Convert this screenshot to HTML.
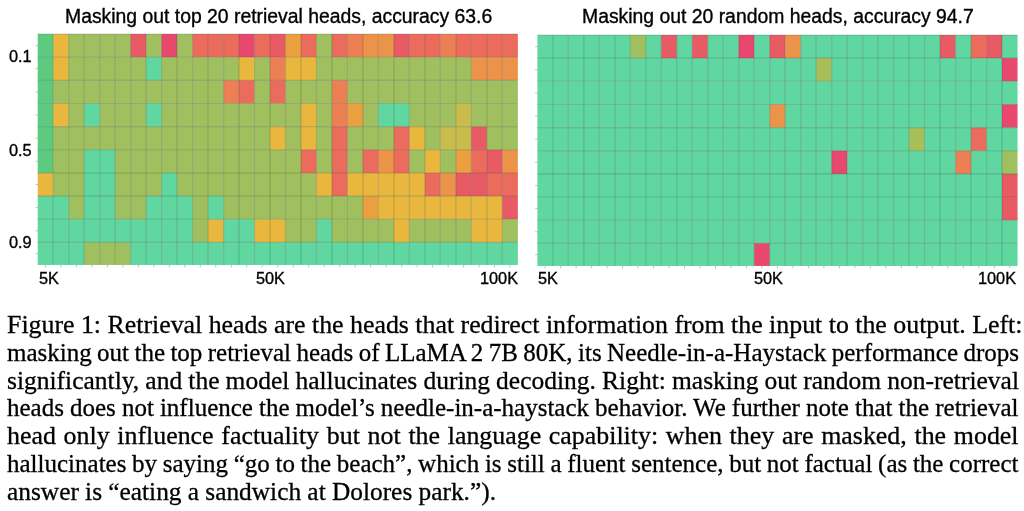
<!DOCTYPE html>
<html><head><meta charset="utf-8"><style>
html,body{margin:0;padding:0;background:#fff;}
.t,.cl{will-change:transform;}
body{width:1024px;height:511px;position:relative;overflow:hidden;}
.t{position:absolute;font-family:"Liberation Sans",sans-serif;color:#000;white-space:nowrap;line-height:1;-webkit-text-stroke:0.35px #000;}
.title{font-size:19.36px;}
.tick{font-size:16.3px;}
.cl{position:absolute;left:7.0px;font-family:"Liberation Serif",serif;font-size:25.0px;color:#000;line-height:28px;white-space:nowrap;transform-origin:0 0;-webkit-text-stroke:0.3px #000;}
svg{position:absolute;left:0;top:0;}
.gl{stroke:rgba(40,70,55,0.24);stroke-width:1.1;}
.tk{stroke:rgba(110,110,110,0.55);stroke-width:0.8;}
</style></head><body>
<svg width="1024" height="511" viewBox="0 0 1024 511">
<rect x="37.70" y="34.04" width="15.54" height="23.20" fill="#5CCB80"/>
<rect x="53.19" y="34.04" width="15.54" height="23.20" fill="#E9B73E"/>
<rect x="68.67" y="34.04" width="15.54" height="23.20" fill="#A0C05F"/>
<rect x="84.16" y="34.04" width="15.54" height="23.20" fill="#A0C05F"/>
<rect x="99.65" y="34.04" width="15.54" height="23.20" fill="#A0C05F"/>
<rect x="115.14" y="34.04" width="15.54" height="23.20" fill="#A0C05F"/>
<rect x="130.62" y="34.04" width="15.54" height="23.20" fill="#E85A64"/>
<rect x="146.11" y="34.04" width="15.54" height="23.20" fill="#A0C05F"/>
<rect x="161.60" y="34.04" width="15.54" height="23.20" fill="#E8476E"/>
<rect x="177.08" y="34.04" width="15.54" height="23.20" fill="#A0C05F"/>
<rect x="192.57" y="34.04" width="15.54" height="23.20" fill="#EB6B5C"/>
<rect x="208.06" y="34.04" width="15.54" height="23.20" fill="#EB6B5C"/>
<rect x="223.55" y="34.04" width="15.54" height="23.20" fill="#EB6B5C"/>
<rect x="239.03" y="34.04" width="15.54" height="23.20" fill="#E8476E"/>
<rect x="254.52" y="34.04" width="15.54" height="23.20" fill="#EB6B5C"/>
<rect x="270.01" y="34.04" width="15.54" height="23.20" fill="#E85A64"/>
<rect x="285.49" y="34.04" width="15.54" height="23.20" fill="#EBA040"/>
<rect x="300.98" y="34.04" width="15.54" height="23.20" fill="#EB6B5C"/>
<rect x="316.47" y="34.04" width="15.54" height="23.20" fill="#A0C05F"/>
<rect x="331.95" y="34.04" width="15.54" height="23.20" fill="#EB6B5C"/>
<rect x="347.44" y="34.04" width="15.54" height="23.20" fill="#EC8054"/>
<rect x="362.93" y="34.04" width="15.54" height="23.20" fill="#EB9349"/>
<rect x="378.42" y="34.04" width="15.54" height="23.20" fill="#EB9349"/>
<rect x="393.90" y="34.04" width="15.54" height="23.20" fill="#E85A64"/>
<rect x="409.39" y="34.04" width="15.54" height="23.20" fill="#EB6B5C"/>
<rect x="424.88" y="34.04" width="15.54" height="23.20" fill="#EB6B5C"/>
<rect x="440.36" y="34.04" width="15.54" height="23.20" fill="#EC8054"/>
<rect x="455.85" y="34.04" width="15.54" height="23.20" fill="#EB6B5C"/>
<rect x="471.34" y="34.04" width="15.54" height="23.20" fill="#EB6B5C"/>
<rect x="486.83" y="34.04" width="15.54" height="23.20" fill="#EB6B5C"/>
<rect x="502.31" y="34.04" width="15.54" height="23.20" fill="#EB6B5C"/>
<rect x="37.70" y="57.19" width="15.54" height="23.20" fill="#5CCB80"/>
<rect x="53.19" y="57.19" width="15.54" height="23.20" fill="#E9B73E"/>
<rect x="68.67" y="57.19" width="15.54" height="23.20" fill="#A0C05F"/>
<rect x="84.16" y="57.19" width="15.54" height="23.20" fill="#A0C05F"/>
<rect x="99.65" y="57.19" width="15.54" height="23.20" fill="#A0C05F"/>
<rect x="115.14" y="57.19" width="15.54" height="23.20" fill="#A0C05F"/>
<rect x="130.62" y="57.19" width="15.54" height="23.20" fill="#A0C05F"/>
<rect x="146.11" y="57.19" width="15.54" height="23.20" fill="#60D6A1"/>
<rect x="161.60" y="57.19" width="15.54" height="23.20" fill="#A0C05F"/>
<rect x="177.08" y="57.19" width="15.54" height="23.20" fill="#A0C05F"/>
<rect x="192.57" y="57.19" width="15.54" height="23.20" fill="#A0C05F"/>
<rect x="208.06" y="57.19" width="15.54" height="23.20" fill="#A0C05F"/>
<rect x="223.55" y="57.19" width="15.54" height="23.20" fill="#A0C05F"/>
<rect x="239.03" y="57.19" width="15.54" height="23.20" fill="#E9B73E"/>
<rect x="254.52" y="57.19" width="15.54" height="23.20" fill="#A0C05F"/>
<rect x="270.01" y="57.19" width="15.54" height="23.20" fill="#EC8054"/>
<rect x="285.49" y="57.19" width="15.54" height="23.20" fill="#E9B73E"/>
<rect x="300.98" y="57.19" width="15.54" height="23.20" fill="#E9B73E"/>
<rect x="316.47" y="57.19" width="15.54" height="23.20" fill="#A0C05F"/>
<rect x="331.95" y="57.19" width="15.54" height="23.20" fill="#A0C05F"/>
<rect x="347.44" y="57.19" width="15.54" height="23.20" fill="#A0C05F"/>
<rect x="362.93" y="57.19" width="15.54" height="23.20" fill="#A0C05F"/>
<rect x="378.42" y="57.19" width="15.54" height="23.20" fill="#A0C05F"/>
<rect x="393.90" y="57.19" width="15.54" height="23.20" fill="#A0C05F"/>
<rect x="409.39" y="57.19" width="15.54" height="23.20" fill="#A0C05F"/>
<rect x="424.88" y="57.19" width="15.54" height="23.20" fill="#A0C05F"/>
<rect x="440.36" y="57.19" width="15.54" height="23.20" fill="#A0C05F"/>
<rect x="455.85" y="57.19" width="15.54" height="23.20" fill="#A0C05F"/>
<rect x="471.34" y="57.19" width="15.54" height="23.20" fill="#EB9349"/>
<rect x="486.83" y="57.19" width="15.54" height="23.20" fill="#EB9349"/>
<rect x="502.31" y="57.19" width="15.54" height="23.20" fill="#EB9349"/>
<rect x="37.70" y="80.34" width="15.54" height="23.20" fill="#5CCB80"/>
<rect x="53.19" y="80.34" width="15.54" height="23.20" fill="#A0C05F"/>
<rect x="68.67" y="80.34" width="15.54" height="23.20" fill="#A0C05F"/>
<rect x="84.16" y="80.34" width="15.54" height="23.20" fill="#A0C05F"/>
<rect x="99.65" y="80.34" width="15.54" height="23.20" fill="#A0C05F"/>
<rect x="115.14" y="80.34" width="15.54" height="23.20" fill="#A0C05F"/>
<rect x="130.62" y="80.34" width="15.54" height="23.20" fill="#A0C05F"/>
<rect x="146.11" y="80.34" width="15.54" height="23.20" fill="#A0C05F"/>
<rect x="161.60" y="80.34" width="15.54" height="23.20" fill="#A0C05F"/>
<rect x="177.08" y="80.34" width="15.54" height="23.20" fill="#A0C05F"/>
<rect x="192.57" y="80.34" width="15.54" height="23.20" fill="#A0C05F"/>
<rect x="208.06" y="80.34" width="15.54" height="23.20" fill="#A0C05F"/>
<rect x="223.55" y="80.34" width="15.54" height="23.20" fill="#EC8054"/>
<rect x="239.03" y="80.34" width="15.54" height="23.20" fill="#EB6B5C"/>
<rect x="254.52" y="80.34" width="15.54" height="23.20" fill="#A0C05F"/>
<rect x="270.01" y="80.34" width="15.54" height="23.20" fill="#EB6B5C"/>
<rect x="285.49" y="80.34" width="15.54" height="23.20" fill="#A0C05F"/>
<rect x="300.98" y="80.34" width="15.54" height="23.20" fill="#A0C05F"/>
<rect x="316.47" y="80.34" width="15.54" height="23.20" fill="#A0C05F"/>
<rect x="331.95" y="80.34" width="15.54" height="23.20" fill="#EC8054"/>
<rect x="347.44" y="80.34" width="15.54" height="23.20" fill="#A0C05F"/>
<rect x="362.93" y="80.34" width="15.54" height="23.20" fill="#A0C05F"/>
<rect x="378.42" y="80.34" width="15.54" height="23.20" fill="#A0C05F"/>
<rect x="393.90" y="80.34" width="15.54" height="23.20" fill="#A0C05F"/>
<rect x="409.39" y="80.34" width="15.54" height="23.20" fill="#A0C05F"/>
<rect x="424.88" y="80.34" width="15.54" height="23.20" fill="#A0C05F"/>
<rect x="440.36" y="80.34" width="15.54" height="23.20" fill="#A0C05F"/>
<rect x="455.85" y="80.34" width="15.54" height="23.20" fill="#A0C05F"/>
<rect x="471.34" y="80.34" width="15.54" height="23.20" fill="#A0C05F"/>
<rect x="486.83" y="80.34" width="15.54" height="23.20" fill="#A0C05F"/>
<rect x="502.31" y="80.34" width="15.54" height="23.20" fill="#A0C05F"/>
<rect x="37.70" y="103.49" width="15.54" height="23.20" fill="#5CCB80"/>
<rect x="53.19" y="103.49" width="15.54" height="23.20" fill="#E9B73E"/>
<rect x="68.67" y="103.49" width="15.54" height="23.20" fill="#A0C05F"/>
<rect x="84.16" y="103.49" width="15.54" height="23.20" fill="#60D6A1"/>
<rect x="99.65" y="103.49" width="15.54" height="23.20" fill="#A0C05F"/>
<rect x="115.14" y="103.49" width="15.54" height="23.20" fill="#A0C05F"/>
<rect x="130.62" y="103.49" width="15.54" height="23.20" fill="#A0C05F"/>
<rect x="146.11" y="103.49" width="15.54" height="23.20" fill="#60D6A1"/>
<rect x="161.60" y="103.49" width="15.54" height="23.20" fill="#A0C05F"/>
<rect x="177.08" y="103.49" width="15.54" height="23.20" fill="#A0C05F"/>
<rect x="192.57" y="103.49" width="15.54" height="23.20" fill="#A0C05F"/>
<rect x="208.06" y="103.49" width="15.54" height="23.20" fill="#A0C05F"/>
<rect x="223.55" y="103.49" width="15.54" height="23.20" fill="#A0C05F"/>
<rect x="239.03" y="103.49" width="15.54" height="23.20" fill="#A0C05F"/>
<rect x="254.52" y="103.49" width="15.54" height="23.20" fill="#A0C05F"/>
<rect x="270.01" y="103.49" width="15.54" height="23.20" fill="#A0C05F"/>
<rect x="285.49" y="103.49" width="15.54" height="23.20" fill="#A0C05F"/>
<rect x="300.98" y="103.49" width="15.54" height="23.20" fill="#E9B73E"/>
<rect x="316.47" y="103.49" width="15.54" height="23.20" fill="#A0C05F"/>
<rect x="331.95" y="103.49" width="15.54" height="23.20" fill="#EC8054"/>
<rect x="347.44" y="103.49" width="15.54" height="23.20" fill="#EBA040"/>
<rect x="362.93" y="103.49" width="15.54" height="23.20" fill="#A0C05F"/>
<rect x="378.42" y="103.49" width="15.54" height="23.20" fill="#60D6A1"/>
<rect x="393.90" y="103.49" width="15.54" height="23.20" fill="#60D6A1"/>
<rect x="409.39" y="103.49" width="15.54" height="23.20" fill="#A0C05F"/>
<rect x="424.88" y="103.49" width="15.54" height="23.20" fill="#A0C05F"/>
<rect x="440.36" y="103.49" width="15.54" height="23.20" fill="#A0C05F"/>
<rect x="455.85" y="103.49" width="15.54" height="23.20" fill="#C9BC4C"/>
<rect x="471.34" y="103.49" width="15.54" height="23.20" fill="#A0C05F"/>
<rect x="486.83" y="103.49" width="15.54" height="23.20" fill="#A0C05F"/>
<rect x="502.31" y="103.49" width="15.54" height="23.20" fill="#A0C05F"/>
<rect x="37.70" y="126.64" width="15.54" height="23.20" fill="#5CCB80"/>
<rect x="53.19" y="126.64" width="15.54" height="23.20" fill="#A0C05F"/>
<rect x="68.67" y="126.64" width="15.54" height="23.20" fill="#A0C05F"/>
<rect x="84.16" y="126.64" width="15.54" height="23.20" fill="#A0C05F"/>
<rect x="99.65" y="126.64" width="15.54" height="23.20" fill="#A0C05F"/>
<rect x="115.14" y="126.64" width="15.54" height="23.20" fill="#A0C05F"/>
<rect x="130.62" y="126.64" width="15.54" height="23.20" fill="#A0C05F"/>
<rect x="146.11" y="126.64" width="15.54" height="23.20" fill="#A0C05F"/>
<rect x="161.60" y="126.64" width="15.54" height="23.20" fill="#A0C05F"/>
<rect x="177.08" y="126.64" width="15.54" height="23.20" fill="#A0C05F"/>
<rect x="192.57" y="126.64" width="15.54" height="23.20" fill="#A0C05F"/>
<rect x="208.06" y="126.64" width="15.54" height="23.20" fill="#A0C05F"/>
<rect x="223.55" y="126.64" width="15.54" height="23.20" fill="#A0C05F"/>
<rect x="239.03" y="126.64" width="15.54" height="23.20" fill="#A0C05F"/>
<rect x="254.52" y="126.64" width="15.54" height="23.20" fill="#A0C05F"/>
<rect x="270.01" y="126.64" width="15.54" height="23.20" fill="#E9B73E"/>
<rect x="285.49" y="126.64" width="15.54" height="23.20" fill="#A0C05F"/>
<rect x="300.98" y="126.64" width="15.54" height="23.20" fill="#E9B73E"/>
<rect x="316.47" y="126.64" width="15.54" height="23.20" fill="#A0C05F"/>
<rect x="331.95" y="126.64" width="15.54" height="23.20" fill="#EB6B5C"/>
<rect x="347.44" y="126.64" width="15.54" height="23.20" fill="#A0C05F"/>
<rect x="362.93" y="126.64" width="15.54" height="23.20" fill="#A0C05F"/>
<rect x="378.42" y="126.64" width="15.54" height="23.20" fill="#A0C05F"/>
<rect x="393.90" y="126.64" width="15.54" height="23.20" fill="#EB6B5C"/>
<rect x="409.39" y="126.64" width="15.54" height="23.20" fill="#E9B73E"/>
<rect x="424.88" y="126.64" width="15.54" height="23.20" fill="#A0C05F"/>
<rect x="440.36" y="126.64" width="15.54" height="23.20" fill="#C9BC4C"/>
<rect x="455.85" y="126.64" width="15.54" height="23.20" fill="#C9BC4C"/>
<rect x="471.34" y="126.64" width="15.54" height="23.20" fill="#E85A64"/>
<rect x="486.83" y="126.64" width="15.54" height="23.20" fill="#A0C05F"/>
<rect x="502.31" y="126.64" width="15.54" height="23.20" fill="#A0C05F"/>
<rect x="37.70" y="149.79" width="15.54" height="23.20" fill="#5CCB80"/>
<rect x="53.19" y="149.79" width="15.54" height="23.20" fill="#A0C05F"/>
<rect x="68.67" y="149.79" width="15.54" height="23.20" fill="#A0C05F"/>
<rect x="84.16" y="149.79" width="15.54" height="23.20" fill="#60D6A1"/>
<rect x="99.65" y="149.79" width="15.54" height="23.20" fill="#60D6A1"/>
<rect x="115.14" y="149.79" width="15.54" height="23.20" fill="#A0C05F"/>
<rect x="130.62" y="149.79" width="15.54" height="23.20" fill="#A0C05F"/>
<rect x="146.11" y="149.79" width="15.54" height="23.20" fill="#A0C05F"/>
<rect x="161.60" y="149.79" width="15.54" height="23.20" fill="#A0C05F"/>
<rect x="177.08" y="149.79" width="15.54" height="23.20" fill="#A0C05F"/>
<rect x="192.57" y="149.79" width="15.54" height="23.20" fill="#A0C05F"/>
<rect x="208.06" y="149.79" width="15.54" height="23.20" fill="#A0C05F"/>
<rect x="223.55" y="149.79" width="15.54" height="23.20" fill="#A0C05F"/>
<rect x="239.03" y="149.79" width="15.54" height="23.20" fill="#A0C05F"/>
<rect x="254.52" y="149.79" width="15.54" height="23.20" fill="#A0C05F"/>
<rect x="270.01" y="149.79" width="15.54" height="23.20" fill="#A0C05F"/>
<rect x="285.49" y="149.79" width="15.54" height="23.20" fill="#A0C05F"/>
<rect x="300.98" y="149.79" width="15.54" height="23.20" fill="#EB6B5C"/>
<rect x="316.47" y="149.79" width="15.54" height="23.20" fill="#A0C05F"/>
<rect x="331.95" y="149.79" width="15.54" height="23.20" fill="#EB6B5C"/>
<rect x="347.44" y="149.79" width="15.54" height="23.20" fill="#A0C05F"/>
<rect x="362.93" y="149.79" width="15.54" height="23.20" fill="#EB6B5C"/>
<rect x="378.42" y="149.79" width="15.54" height="23.20" fill="#EB9349"/>
<rect x="393.90" y="149.79" width="15.54" height="23.20" fill="#EB6B5C"/>
<rect x="409.39" y="149.79" width="15.54" height="23.20" fill="#A0C05F"/>
<rect x="424.88" y="149.79" width="15.54" height="23.20" fill="#E9B73E"/>
<rect x="440.36" y="149.79" width="15.54" height="23.20" fill="#A0C05F"/>
<rect x="455.85" y="149.79" width="15.54" height="23.20" fill="#EBA040"/>
<rect x="471.34" y="149.79" width="15.54" height="23.20" fill="#EB6B5C"/>
<rect x="486.83" y="149.79" width="15.54" height="23.20" fill="#E85A64"/>
<rect x="502.31" y="149.79" width="15.54" height="23.20" fill="#EB9349"/>
<rect x="37.70" y="172.94" width="15.54" height="23.20" fill="#E9B73E"/>
<rect x="53.19" y="172.94" width="15.54" height="23.20" fill="#A0C05F"/>
<rect x="68.67" y="172.94" width="15.54" height="23.20" fill="#A0C05F"/>
<rect x="84.16" y="172.94" width="15.54" height="23.20" fill="#60D6A1"/>
<rect x="99.65" y="172.94" width="15.54" height="23.20" fill="#60D6A1"/>
<rect x="115.14" y="172.94" width="15.54" height="23.20" fill="#A0C05F"/>
<rect x="130.62" y="172.94" width="15.54" height="23.20" fill="#A0C05F"/>
<rect x="146.11" y="172.94" width="15.54" height="23.20" fill="#A0C05F"/>
<rect x="161.60" y="172.94" width="15.54" height="23.20" fill="#60D6A1"/>
<rect x="177.08" y="172.94" width="15.54" height="23.20" fill="#A0C05F"/>
<rect x="192.57" y="172.94" width="15.54" height="23.20" fill="#A0C05F"/>
<rect x="208.06" y="172.94" width="15.54" height="23.20" fill="#A0C05F"/>
<rect x="223.55" y="172.94" width="15.54" height="23.20" fill="#A0C05F"/>
<rect x="239.03" y="172.94" width="15.54" height="23.20" fill="#A0C05F"/>
<rect x="254.52" y="172.94" width="15.54" height="23.20" fill="#A0C05F"/>
<rect x="270.01" y="172.94" width="15.54" height="23.20" fill="#A0C05F"/>
<rect x="285.49" y="172.94" width="15.54" height="23.20" fill="#A0C05F"/>
<rect x="300.98" y="172.94" width="15.54" height="23.20" fill="#A0C05F"/>
<rect x="316.47" y="172.94" width="15.54" height="23.20" fill="#E9B73E"/>
<rect x="331.95" y="172.94" width="15.54" height="23.20" fill="#EB6B5C"/>
<rect x="347.44" y="172.94" width="15.54" height="23.20" fill="#E9B73E"/>
<rect x="362.93" y="172.94" width="15.54" height="23.20" fill="#E9B73E"/>
<rect x="378.42" y="172.94" width="15.54" height="23.20" fill="#E9B73E"/>
<rect x="393.90" y="172.94" width="15.54" height="23.20" fill="#E9B73E"/>
<rect x="409.39" y="172.94" width="15.54" height="23.20" fill="#E9B73E"/>
<rect x="424.88" y="172.94" width="15.54" height="23.20" fill="#EB6B5C"/>
<rect x="440.36" y="172.94" width="15.54" height="23.20" fill="#EB9349"/>
<rect x="455.85" y="172.94" width="15.54" height="23.20" fill="#E85A64"/>
<rect x="471.34" y="172.94" width="15.54" height="23.20" fill="#E85A64"/>
<rect x="486.83" y="172.94" width="15.54" height="23.20" fill="#EB6B5C"/>
<rect x="502.31" y="172.94" width="15.54" height="23.20" fill="#EB6B5C"/>
<rect x="37.70" y="196.09" width="15.54" height="23.20" fill="#60D6A1"/>
<rect x="53.19" y="196.09" width="15.54" height="23.20" fill="#60D6A1"/>
<rect x="68.67" y="196.09" width="15.54" height="23.20" fill="#A0C05F"/>
<rect x="84.16" y="196.09" width="15.54" height="23.20" fill="#60D6A1"/>
<rect x="99.65" y="196.09" width="15.54" height="23.20" fill="#60D6A1"/>
<rect x="115.14" y="196.09" width="15.54" height="23.20" fill="#A0C05F"/>
<rect x="130.62" y="196.09" width="15.54" height="23.20" fill="#A0C05F"/>
<rect x="146.11" y="196.09" width="15.54" height="23.20" fill="#60D6A1"/>
<rect x="161.60" y="196.09" width="15.54" height="23.20" fill="#60D6A1"/>
<rect x="177.08" y="196.09" width="15.54" height="23.20" fill="#60D6A1"/>
<rect x="192.57" y="196.09" width="15.54" height="23.20" fill="#A0C05F"/>
<rect x="208.06" y="196.09" width="15.54" height="23.20" fill="#60D6A1"/>
<rect x="223.55" y="196.09" width="15.54" height="23.20" fill="#A0C05F"/>
<rect x="239.03" y="196.09" width="15.54" height="23.20" fill="#A0C05F"/>
<rect x="254.52" y="196.09" width="15.54" height="23.20" fill="#A0C05F"/>
<rect x="270.01" y="196.09" width="15.54" height="23.20" fill="#A0C05F"/>
<rect x="285.49" y="196.09" width="15.54" height="23.20" fill="#A0C05F"/>
<rect x="300.98" y="196.09" width="15.54" height="23.20" fill="#A0C05F"/>
<rect x="316.47" y="196.09" width="15.54" height="23.20" fill="#A0C05F"/>
<rect x="331.95" y="196.09" width="15.54" height="23.20" fill="#A0C05F"/>
<rect x="347.44" y="196.09" width="15.54" height="23.20" fill="#A0C05F"/>
<rect x="362.93" y="196.09" width="15.54" height="23.20" fill="#EBA040"/>
<rect x="378.42" y="196.09" width="15.54" height="23.20" fill="#E9B73E"/>
<rect x="393.90" y="196.09" width="15.54" height="23.20" fill="#E9B73E"/>
<rect x="409.39" y="196.09" width="15.54" height="23.20" fill="#E9B73E"/>
<rect x="424.88" y="196.09" width="15.54" height="23.20" fill="#E9B73E"/>
<rect x="440.36" y="196.09" width="15.54" height="23.20" fill="#E9B73E"/>
<rect x="455.85" y="196.09" width="15.54" height="23.20" fill="#E9B73E"/>
<rect x="471.34" y="196.09" width="15.54" height="23.20" fill="#E9B73E"/>
<rect x="486.83" y="196.09" width="15.54" height="23.20" fill="#E9B73E"/>
<rect x="502.31" y="196.09" width="15.54" height="23.20" fill="#E85A64"/>
<rect x="37.70" y="219.24" width="15.54" height="23.20" fill="#60D6A1"/>
<rect x="53.19" y="219.24" width="15.54" height="23.20" fill="#60D6A1"/>
<rect x="68.67" y="219.24" width="15.54" height="23.20" fill="#60D6A1"/>
<rect x="84.16" y="219.24" width="15.54" height="23.20" fill="#60D6A1"/>
<rect x="99.65" y="219.24" width="15.54" height="23.20" fill="#60D6A1"/>
<rect x="115.14" y="219.24" width="15.54" height="23.20" fill="#60D6A1"/>
<rect x="130.62" y="219.24" width="15.54" height="23.20" fill="#60D6A1"/>
<rect x="146.11" y="219.24" width="15.54" height="23.20" fill="#60D6A1"/>
<rect x="161.60" y="219.24" width="15.54" height="23.20" fill="#60D6A1"/>
<rect x="177.08" y="219.24" width="15.54" height="23.20" fill="#60D6A1"/>
<rect x="192.57" y="219.24" width="15.54" height="23.20" fill="#A0C05F"/>
<rect x="208.06" y="219.24" width="15.54" height="23.20" fill="#E9B73E"/>
<rect x="223.55" y="219.24" width="15.54" height="23.20" fill="#60D6A1"/>
<rect x="239.03" y="219.24" width="15.54" height="23.20" fill="#60D6A1"/>
<rect x="254.52" y="219.24" width="15.54" height="23.20" fill="#E9B73E"/>
<rect x="270.01" y="219.24" width="15.54" height="23.20" fill="#E9B73E"/>
<rect x="285.49" y="219.24" width="15.54" height="23.20" fill="#A0C05F"/>
<rect x="300.98" y="219.24" width="15.54" height="23.20" fill="#A0C05F"/>
<rect x="316.47" y="219.24" width="15.54" height="23.20" fill="#60D6A1"/>
<rect x="331.95" y="219.24" width="15.54" height="23.20" fill="#A0C05F"/>
<rect x="347.44" y="219.24" width="15.54" height="23.20" fill="#A0C05F"/>
<rect x="362.93" y="219.24" width="15.54" height="23.20" fill="#A0C05F"/>
<rect x="378.42" y="219.24" width="15.54" height="23.20" fill="#A0C05F"/>
<rect x="393.90" y="219.24" width="15.54" height="23.20" fill="#E9B73E"/>
<rect x="409.39" y="219.24" width="15.54" height="23.20" fill="#A0C05F"/>
<rect x="424.88" y="219.24" width="15.54" height="23.20" fill="#A0C05F"/>
<rect x="440.36" y="219.24" width="15.54" height="23.20" fill="#A0C05F"/>
<rect x="455.85" y="219.24" width="15.54" height="23.20" fill="#A0C05F"/>
<rect x="471.34" y="219.24" width="15.54" height="23.20" fill="#E9B73E"/>
<rect x="486.83" y="219.24" width="15.54" height="23.20" fill="#E9B73E"/>
<rect x="502.31" y="219.24" width="15.54" height="23.20" fill="#A0C05F"/>
<rect x="37.70" y="242.39" width="15.54" height="22.56" fill="#60D6A1"/>
<rect x="53.19" y="242.39" width="15.54" height="22.56" fill="#60D6A1"/>
<rect x="68.67" y="242.39" width="15.54" height="22.56" fill="#60D6A1"/>
<rect x="84.16" y="242.39" width="15.54" height="22.56" fill="#A0C05F"/>
<rect x="99.65" y="242.39" width="15.54" height="22.56" fill="#A0C05F"/>
<rect x="115.14" y="242.39" width="15.54" height="22.56" fill="#A0C05F"/>
<rect x="130.62" y="242.39" width="15.54" height="22.56" fill="#60D6A1"/>
<rect x="146.11" y="242.39" width="15.54" height="22.56" fill="#60D6A1"/>
<rect x="161.60" y="242.39" width="15.54" height="22.56" fill="#60D6A1"/>
<rect x="177.08" y="242.39" width="15.54" height="22.56" fill="#60D6A1"/>
<rect x="192.57" y="242.39" width="15.54" height="22.56" fill="#60D6A1"/>
<rect x="208.06" y="242.39" width="15.54" height="22.56" fill="#60D6A1"/>
<rect x="223.55" y="242.39" width="15.54" height="22.56" fill="#60D6A1"/>
<rect x="239.03" y="242.39" width="15.54" height="22.56" fill="#60D6A1"/>
<rect x="254.52" y="242.39" width="15.54" height="22.56" fill="#60D6A1"/>
<rect x="270.01" y="242.39" width="15.54" height="22.56" fill="#60D6A1"/>
<rect x="285.49" y="242.39" width="15.54" height="22.56" fill="#60D6A1"/>
<rect x="300.98" y="242.39" width="15.54" height="22.56" fill="#60D6A1"/>
<rect x="316.47" y="242.39" width="15.54" height="22.56" fill="#60D6A1"/>
<rect x="331.95" y="242.39" width="15.54" height="22.56" fill="#60D6A1"/>
<rect x="347.44" y="242.39" width="15.54" height="22.56" fill="#60D6A1"/>
<rect x="362.93" y="242.39" width="15.54" height="22.56" fill="#60D6A1"/>
<rect x="378.42" y="242.39" width="15.54" height="22.56" fill="#60D6A1"/>
<rect x="393.90" y="242.39" width="15.54" height="22.56" fill="#60D6A1"/>
<rect x="409.39" y="242.39" width="15.54" height="22.56" fill="#60D6A1"/>
<rect x="424.88" y="242.39" width="15.54" height="22.56" fill="#60D6A1"/>
<rect x="440.36" y="242.39" width="15.54" height="22.56" fill="#60D6A1"/>
<rect x="455.85" y="242.39" width="15.54" height="22.56" fill="#60D6A1"/>
<rect x="471.34" y="242.39" width="15.54" height="22.56" fill="#60D6A1"/>
<rect x="486.83" y="242.39" width="15.54" height="22.56" fill="#60D6A1"/>
<rect x="502.31" y="242.39" width="15.54" height="22.56" fill="#60D6A1"/>
<line x1="37.70" y1="34.04" x2="517.80" y2="34.04" class="gl"/>
<line x1="53.19" y1="34.04" x2="53.19" y2="264.90" class="gl"/>
<line x1="68.67" y1="34.04" x2="68.67" y2="264.90" class="gl"/>
<line x1="84.16" y1="34.04" x2="84.16" y2="264.90" class="gl"/>
<line x1="99.65" y1="34.04" x2="99.65" y2="264.90" class="gl"/>
<line x1="115.14" y1="34.04" x2="115.14" y2="264.90" class="gl"/>
<line x1="130.62" y1="34.04" x2="130.62" y2="264.90" class="gl"/>
<line x1="146.11" y1="34.04" x2="146.11" y2="264.90" class="gl"/>
<line x1="161.60" y1="34.04" x2="161.60" y2="264.90" class="gl"/>
<line x1="177.08" y1="34.04" x2="177.08" y2="264.90" class="gl"/>
<line x1="192.57" y1="34.04" x2="192.57" y2="264.90" class="gl"/>
<line x1="208.06" y1="34.04" x2="208.06" y2="264.90" class="gl"/>
<line x1="223.55" y1="34.04" x2="223.55" y2="264.90" class="gl"/>
<line x1="239.03" y1="34.04" x2="239.03" y2="264.90" class="gl"/>
<line x1="254.52" y1="34.04" x2="254.52" y2="264.90" class="gl"/>
<line x1="270.01" y1="34.04" x2="270.01" y2="264.90" class="gl"/>
<line x1="285.49" y1="34.04" x2="285.49" y2="264.90" class="gl"/>
<line x1="300.98" y1="34.04" x2="300.98" y2="264.90" class="gl"/>
<line x1="316.47" y1="34.04" x2="316.47" y2="264.90" class="gl"/>
<line x1="331.95" y1="34.04" x2="331.95" y2="264.90" class="gl"/>
<line x1="347.44" y1="34.04" x2="347.44" y2="264.90" class="gl"/>
<line x1="362.93" y1="34.04" x2="362.93" y2="264.90" class="gl"/>
<line x1="378.42" y1="34.04" x2="378.42" y2="264.90" class="gl"/>
<line x1="393.90" y1="34.04" x2="393.90" y2="264.90" class="gl"/>
<line x1="409.39" y1="34.04" x2="409.39" y2="264.90" class="gl"/>
<line x1="424.88" y1="34.04" x2="424.88" y2="264.90" class="gl"/>
<line x1="440.36" y1="34.04" x2="440.36" y2="264.90" class="gl"/>
<line x1="455.85" y1="34.04" x2="455.85" y2="264.90" class="gl"/>
<line x1="471.34" y1="34.04" x2="471.34" y2="264.90" class="gl"/>
<line x1="486.83" y1="34.04" x2="486.83" y2="264.90" class="gl"/>
<line x1="502.31" y1="34.04" x2="502.31" y2="264.90" class="gl"/>
<line x1="37.70" y1="57.19" x2="517.80" y2="57.19" class="gl"/>
<line x1="37.70" y1="80.34" x2="517.80" y2="80.34" class="gl"/>
<line x1="37.70" y1="103.49" x2="517.80" y2="103.49" class="gl"/>
<line x1="37.70" y1="126.64" x2="517.80" y2="126.64" class="gl"/>
<line x1="37.70" y1="149.79" x2="517.80" y2="149.79" class="gl"/>
<line x1="37.70" y1="172.94" x2="517.80" y2="172.94" class="gl"/>
<line x1="37.70" y1="196.09" x2="517.80" y2="196.09" class="gl"/>
<line x1="37.70" y1="219.24" x2="517.80" y2="219.24" class="gl"/>
<line x1="37.70" y1="242.39" x2="517.80" y2="242.39" class="gl"/>
<line x1="45.44" y1="264.90" x2="45.44" y2="267.40" class="tk"/>
<line x1="60.93" y1="264.90" x2="60.93" y2="267.40" class="tk"/>
<line x1="76.42" y1="264.90" x2="76.42" y2="267.40" class="tk"/>
<line x1="91.90" y1="264.90" x2="91.90" y2="267.40" class="tk"/>
<line x1="107.39" y1="264.90" x2="107.39" y2="267.40" class="tk"/>
<line x1="122.88" y1="264.90" x2="122.88" y2="267.40" class="tk"/>
<line x1="138.37" y1="264.90" x2="138.37" y2="267.40" class="tk"/>
<line x1="153.85" y1="264.90" x2="153.85" y2="267.40" class="tk"/>
<line x1="169.34" y1="264.90" x2="169.34" y2="267.40" class="tk"/>
<line x1="184.83" y1="264.90" x2="184.83" y2="267.40" class="tk"/>
<line x1="200.31" y1="264.90" x2="200.31" y2="267.40" class="tk"/>
<line x1="215.80" y1="264.90" x2="215.80" y2="267.40" class="tk"/>
<line x1="231.29" y1="264.90" x2="231.29" y2="267.40" class="tk"/>
<line x1="246.78" y1="264.90" x2="246.78" y2="267.40" class="tk"/>
<line x1="262.26" y1="264.90" x2="262.26" y2="267.40" class="tk"/>
<line x1="277.75" y1="264.90" x2="277.75" y2="267.40" class="tk"/>
<line x1="293.24" y1="264.90" x2="293.24" y2="267.40" class="tk"/>
<line x1="308.72" y1="264.90" x2="308.72" y2="267.40" class="tk"/>
<line x1="324.21" y1="264.90" x2="324.21" y2="267.40" class="tk"/>
<line x1="339.70" y1="264.90" x2="339.70" y2="267.40" class="tk"/>
<line x1="355.19" y1="264.90" x2="355.19" y2="267.40" class="tk"/>
<line x1="370.67" y1="264.90" x2="370.67" y2="267.40" class="tk"/>
<line x1="386.16" y1="264.90" x2="386.16" y2="267.40" class="tk"/>
<line x1="401.65" y1="264.90" x2="401.65" y2="267.40" class="tk"/>
<line x1="417.13" y1="264.90" x2="417.13" y2="267.40" class="tk"/>
<line x1="432.62" y1="264.90" x2="432.62" y2="267.40" class="tk"/>
<line x1="448.11" y1="264.90" x2="448.11" y2="267.40" class="tk"/>
<line x1="463.60" y1="264.90" x2="463.60" y2="267.40" class="tk"/>
<line x1="479.08" y1="264.90" x2="479.08" y2="267.40" class="tk"/>
<line x1="494.57" y1="264.90" x2="494.57" y2="267.40" class="tk"/>
<line x1="510.06" y1="264.90" x2="510.06" y2="267.40" class="tk"/>
<line x1="35.50" y1="45.61" x2="37.70" y2="45.61" class="tk"/>
<line x1="35.50" y1="68.77" x2="37.70" y2="68.77" class="tk"/>
<line x1="35.50" y1="91.91" x2="37.70" y2="91.91" class="tk"/>
<line x1="35.50" y1="115.06" x2="37.70" y2="115.06" class="tk"/>
<line x1="35.50" y1="138.21" x2="37.70" y2="138.21" class="tk"/>
<line x1="35.50" y1="161.36" x2="37.70" y2="161.36" class="tk"/>
<line x1="35.50" y1="184.51" x2="37.70" y2="184.51" class="tk"/>
<line x1="35.50" y1="207.66" x2="37.70" y2="207.66" class="tk"/>
<line x1="35.50" y1="230.81" x2="37.70" y2="230.81" class="tk"/>
<line x1="35.50" y1="253.64" x2="37.70" y2="253.64" class="tk"/>
<rect x="537.40" y="35.02" width="15.54" height="23.20" fill="#60D6A1"/>
<rect x="552.89" y="35.02" width="15.54" height="23.20" fill="#60D6A1"/>
<rect x="568.37" y="35.02" width="15.54" height="23.20" fill="#60D6A1"/>
<rect x="583.86" y="35.02" width="15.54" height="23.20" fill="#60D6A1"/>
<rect x="599.35" y="35.02" width="15.54" height="23.20" fill="#60D6A1"/>
<rect x="614.84" y="35.02" width="15.54" height="23.20" fill="#60D6A1"/>
<rect x="630.32" y="35.02" width="15.54" height="23.20" fill="#A0C05F"/>
<rect x="645.81" y="35.02" width="15.54" height="23.20" fill="#60D6A1"/>
<rect x="661.30" y="35.02" width="15.54" height="23.20" fill="#E85A64"/>
<rect x="676.78" y="35.02" width="15.54" height="23.20" fill="#60D6A1"/>
<rect x="692.27" y="35.02" width="15.54" height="23.20" fill="#E85A64"/>
<rect x="707.76" y="35.02" width="15.54" height="23.20" fill="#60D6A1"/>
<rect x="723.25" y="35.02" width="15.54" height="23.20" fill="#60D6A1"/>
<rect x="738.73" y="35.02" width="15.54" height="23.20" fill="#E8476E"/>
<rect x="754.22" y="35.02" width="15.54" height="23.20" fill="#60D6A1"/>
<rect x="769.71" y="35.02" width="15.54" height="23.20" fill="#E85A64"/>
<rect x="785.19" y="35.02" width="15.54" height="23.20" fill="#EB9349"/>
<rect x="800.68" y="35.02" width="15.54" height="23.20" fill="#60D6A1"/>
<rect x="816.17" y="35.02" width="15.54" height="23.20" fill="#60D6A1"/>
<rect x="831.65" y="35.02" width="15.54" height="23.20" fill="#60D6A1"/>
<rect x="847.14" y="35.02" width="15.54" height="23.20" fill="#60D6A1"/>
<rect x="862.63" y="35.02" width="15.54" height="23.20" fill="#60D6A1"/>
<rect x="878.12" y="35.02" width="15.54" height="23.20" fill="#60D6A1"/>
<rect x="893.60" y="35.02" width="15.54" height="23.20" fill="#60D6A1"/>
<rect x="909.09" y="35.02" width="15.54" height="23.20" fill="#60D6A1"/>
<rect x="924.58" y="35.02" width="15.54" height="23.20" fill="#60D6A1"/>
<rect x="940.06" y="35.02" width="15.54" height="23.20" fill="#E85A64"/>
<rect x="955.55" y="35.02" width="15.54" height="23.20" fill="#60D6A1"/>
<rect x="971.04" y="35.02" width="15.54" height="23.20" fill="#EB6B5C"/>
<rect x="986.53" y="35.02" width="15.54" height="23.20" fill="#E85A64"/>
<rect x="1002.01" y="35.02" width="15.54" height="23.20" fill="#60D6A1"/>
<rect x="537.40" y="58.17" width="15.54" height="23.20" fill="#60D6A1"/>
<rect x="552.89" y="58.17" width="15.54" height="23.20" fill="#60D6A1"/>
<rect x="568.37" y="58.17" width="15.54" height="23.20" fill="#60D6A1"/>
<rect x="583.86" y="58.17" width="15.54" height="23.20" fill="#60D6A1"/>
<rect x="599.35" y="58.17" width="15.54" height="23.20" fill="#60D6A1"/>
<rect x="614.84" y="58.17" width="15.54" height="23.20" fill="#60D6A1"/>
<rect x="630.32" y="58.17" width="15.54" height="23.20" fill="#60D6A1"/>
<rect x="645.81" y="58.17" width="15.54" height="23.20" fill="#60D6A1"/>
<rect x="661.30" y="58.17" width="15.54" height="23.20" fill="#60D6A1"/>
<rect x="676.78" y="58.17" width="15.54" height="23.20" fill="#60D6A1"/>
<rect x="692.27" y="58.17" width="15.54" height="23.20" fill="#60D6A1"/>
<rect x="707.76" y="58.17" width="15.54" height="23.20" fill="#60D6A1"/>
<rect x="723.25" y="58.17" width="15.54" height="23.20" fill="#60D6A1"/>
<rect x="738.73" y="58.17" width="15.54" height="23.20" fill="#60D6A1"/>
<rect x="754.22" y="58.17" width="15.54" height="23.20" fill="#60D6A1"/>
<rect x="769.71" y="58.17" width="15.54" height="23.20" fill="#60D6A1"/>
<rect x="785.19" y="58.17" width="15.54" height="23.20" fill="#60D6A1"/>
<rect x="800.68" y="58.17" width="15.54" height="23.20" fill="#60D6A1"/>
<rect x="816.17" y="58.17" width="15.54" height="23.20" fill="#A8BE58"/>
<rect x="831.65" y="58.17" width="15.54" height="23.20" fill="#60D6A1"/>
<rect x="847.14" y="58.17" width="15.54" height="23.20" fill="#60D6A1"/>
<rect x="862.63" y="58.17" width="15.54" height="23.20" fill="#60D6A1"/>
<rect x="878.12" y="58.17" width="15.54" height="23.20" fill="#60D6A1"/>
<rect x="893.60" y="58.17" width="15.54" height="23.20" fill="#60D6A1"/>
<rect x="909.09" y="58.17" width="15.54" height="23.20" fill="#60D6A1"/>
<rect x="924.58" y="58.17" width="15.54" height="23.20" fill="#60D6A1"/>
<rect x="940.06" y="58.17" width="15.54" height="23.20" fill="#60D6A1"/>
<rect x="955.55" y="58.17" width="15.54" height="23.20" fill="#60D6A1"/>
<rect x="971.04" y="58.17" width="15.54" height="23.20" fill="#60D6A1"/>
<rect x="986.53" y="58.17" width="15.54" height="23.20" fill="#60D6A1"/>
<rect x="1002.01" y="58.17" width="15.54" height="23.20" fill="#E8476E"/>
<rect x="537.40" y="81.32" width="15.54" height="23.20" fill="#60D6A1"/>
<rect x="552.89" y="81.32" width="15.54" height="23.20" fill="#60D6A1"/>
<rect x="568.37" y="81.32" width="15.54" height="23.20" fill="#60D6A1"/>
<rect x="583.86" y="81.32" width="15.54" height="23.20" fill="#60D6A1"/>
<rect x="599.35" y="81.32" width="15.54" height="23.20" fill="#60D6A1"/>
<rect x="614.84" y="81.32" width="15.54" height="23.20" fill="#60D6A1"/>
<rect x="630.32" y="81.32" width="15.54" height="23.20" fill="#60D6A1"/>
<rect x="645.81" y="81.32" width="15.54" height="23.20" fill="#60D6A1"/>
<rect x="661.30" y="81.32" width="15.54" height="23.20" fill="#60D6A1"/>
<rect x="676.78" y="81.32" width="15.54" height="23.20" fill="#60D6A1"/>
<rect x="692.27" y="81.32" width="15.54" height="23.20" fill="#60D6A1"/>
<rect x="707.76" y="81.32" width="15.54" height="23.20" fill="#60D6A1"/>
<rect x="723.25" y="81.32" width="15.54" height="23.20" fill="#60D6A1"/>
<rect x="738.73" y="81.32" width="15.54" height="23.20" fill="#60D6A1"/>
<rect x="754.22" y="81.32" width="15.54" height="23.20" fill="#60D6A1"/>
<rect x="769.71" y="81.32" width="15.54" height="23.20" fill="#60D6A1"/>
<rect x="785.19" y="81.32" width="15.54" height="23.20" fill="#60D6A1"/>
<rect x="800.68" y="81.32" width="15.54" height="23.20" fill="#60D6A1"/>
<rect x="816.17" y="81.32" width="15.54" height="23.20" fill="#60D6A1"/>
<rect x="831.65" y="81.32" width="15.54" height="23.20" fill="#60D6A1"/>
<rect x="847.14" y="81.32" width="15.54" height="23.20" fill="#60D6A1"/>
<rect x="862.63" y="81.32" width="15.54" height="23.20" fill="#60D6A1"/>
<rect x="878.12" y="81.32" width="15.54" height="23.20" fill="#60D6A1"/>
<rect x="893.60" y="81.32" width="15.54" height="23.20" fill="#60D6A1"/>
<rect x="909.09" y="81.32" width="15.54" height="23.20" fill="#60D6A1"/>
<rect x="924.58" y="81.32" width="15.54" height="23.20" fill="#60D6A1"/>
<rect x="940.06" y="81.32" width="15.54" height="23.20" fill="#60D6A1"/>
<rect x="955.55" y="81.32" width="15.54" height="23.20" fill="#60D6A1"/>
<rect x="971.04" y="81.32" width="15.54" height="23.20" fill="#60D6A1"/>
<rect x="986.53" y="81.32" width="15.54" height="23.20" fill="#60D6A1"/>
<rect x="1002.01" y="81.32" width="15.54" height="23.20" fill="#60D6A1"/>
<rect x="537.40" y="104.47" width="15.54" height="23.20" fill="#60D6A1"/>
<rect x="552.89" y="104.47" width="15.54" height="23.20" fill="#60D6A1"/>
<rect x="568.37" y="104.47" width="15.54" height="23.20" fill="#60D6A1"/>
<rect x="583.86" y="104.47" width="15.54" height="23.20" fill="#60D6A1"/>
<rect x="599.35" y="104.47" width="15.54" height="23.20" fill="#60D6A1"/>
<rect x="614.84" y="104.47" width="15.54" height="23.20" fill="#60D6A1"/>
<rect x="630.32" y="104.47" width="15.54" height="23.20" fill="#60D6A1"/>
<rect x="645.81" y="104.47" width="15.54" height="23.20" fill="#60D6A1"/>
<rect x="661.30" y="104.47" width="15.54" height="23.20" fill="#60D6A1"/>
<rect x="676.78" y="104.47" width="15.54" height="23.20" fill="#60D6A1"/>
<rect x="692.27" y="104.47" width="15.54" height="23.20" fill="#60D6A1"/>
<rect x="707.76" y="104.47" width="15.54" height="23.20" fill="#60D6A1"/>
<rect x="723.25" y="104.47" width="15.54" height="23.20" fill="#60D6A1"/>
<rect x="738.73" y="104.47" width="15.54" height="23.20" fill="#60D6A1"/>
<rect x="754.22" y="104.47" width="15.54" height="23.20" fill="#60D6A1"/>
<rect x="769.71" y="104.47" width="15.54" height="23.20" fill="#EB9349"/>
<rect x="785.19" y="104.47" width="15.54" height="23.20" fill="#60D6A1"/>
<rect x="800.68" y="104.47" width="15.54" height="23.20" fill="#60D6A1"/>
<rect x="816.17" y="104.47" width="15.54" height="23.20" fill="#60D6A1"/>
<rect x="831.65" y="104.47" width="15.54" height="23.20" fill="#60D6A1"/>
<rect x="847.14" y="104.47" width="15.54" height="23.20" fill="#60D6A1"/>
<rect x="862.63" y="104.47" width="15.54" height="23.20" fill="#60D6A1"/>
<rect x="878.12" y="104.47" width="15.54" height="23.20" fill="#60D6A1"/>
<rect x="893.60" y="104.47" width="15.54" height="23.20" fill="#60D6A1"/>
<rect x="909.09" y="104.47" width="15.54" height="23.20" fill="#60D6A1"/>
<rect x="924.58" y="104.47" width="15.54" height="23.20" fill="#60D6A1"/>
<rect x="940.06" y="104.47" width="15.54" height="23.20" fill="#60D6A1"/>
<rect x="955.55" y="104.47" width="15.54" height="23.20" fill="#60D6A1"/>
<rect x="971.04" y="104.47" width="15.54" height="23.20" fill="#60D6A1"/>
<rect x="986.53" y="104.47" width="15.54" height="23.20" fill="#60D6A1"/>
<rect x="1002.01" y="104.47" width="15.54" height="23.20" fill="#E8476E"/>
<rect x="537.40" y="127.62" width="15.54" height="23.20" fill="#60D6A1"/>
<rect x="552.89" y="127.62" width="15.54" height="23.20" fill="#60D6A1"/>
<rect x="568.37" y="127.62" width="15.54" height="23.20" fill="#60D6A1"/>
<rect x="583.86" y="127.62" width="15.54" height="23.20" fill="#60D6A1"/>
<rect x="599.35" y="127.62" width="15.54" height="23.20" fill="#60D6A1"/>
<rect x="614.84" y="127.62" width="15.54" height="23.20" fill="#60D6A1"/>
<rect x="630.32" y="127.62" width="15.54" height="23.20" fill="#60D6A1"/>
<rect x="645.81" y="127.62" width="15.54" height="23.20" fill="#60D6A1"/>
<rect x="661.30" y="127.62" width="15.54" height="23.20" fill="#60D6A1"/>
<rect x="676.78" y="127.62" width="15.54" height="23.20" fill="#60D6A1"/>
<rect x="692.27" y="127.62" width="15.54" height="23.20" fill="#60D6A1"/>
<rect x="707.76" y="127.62" width="15.54" height="23.20" fill="#60D6A1"/>
<rect x="723.25" y="127.62" width="15.54" height="23.20" fill="#60D6A1"/>
<rect x="738.73" y="127.62" width="15.54" height="23.20" fill="#60D6A1"/>
<rect x="754.22" y="127.62" width="15.54" height="23.20" fill="#60D6A1"/>
<rect x="769.71" y="127.62" width="15.54" height="23.20" fill="#60D6A1"/>
<rect x="785.19" y="127.62" width="15.54" height="23.20" fill="#60D6A1"/>
<rect x="800.68" y="127.62" width="15.54" height="23.20" fill="#60D6A1"/>
<rect x="816.17" y="127.62" width="15.54" height="23.20" fill="#60D6A1"/>
<rect x="831.65" y="127.62" width="15.54" height="23.20" fill="#60D6A1"/>
<rect x="847.14" y="127.62" width="15.54" height="23.20" fill="#60D6A1"/>
<rect x="862.63" y="127.62" width="15.54" height="23.20" fill="#60D6A1"/>
<rect x="878.12" y="127.62" width="15.54" height="23.20" fill="#60D6A1"/>
<rect x="893.60" y="127.62" width="15.54" height="23.20" fill="#60D6A1"/>
<rect x="909.09" y="127.62" width="15.54" height="23.20" fill="#A8BE58"/>
<rect x="924.58" y="127.62" width="15.54" height="23.20" fill="#60D6A1"/>
<rect x="940.06" y="127.62" width="15.54" height="23.20" fill="#60D6A1"/>
<rect x="955.55" y="127.62" width="15.54" height="23.20" fill="#60D6A1"/>
<rect x="971.04" y="127.62" width="15.54" height="23.20" fill="#EB6B5C"/>
<rect x="986.53" y="127.62" width="15.54" height="23.20" fill="#60D6A1"/>
<rect x="1002.01" y="127.62" width="15.54" height="23.20" fill="#60D6A1"/>
<rect x="537.40" y="150.77" width="15.54" height="23.20" fill="#60D6A1"/>
<rect x="552.89" y="150.77" width="15.54" height="23.20" fill="#60D6A1"/>
<rect x="568.37" y="150.77" width="15.54" height="23.20" fill="#60D6A1"/>
<rect x="583.86" y="150.77" width="15.54" height="23.20" fill="#60D6A1"/>
<rect x="599.35" y="150.77" width="15.54" height="23.20" fill="#60D6A1"/>
<rect x="614.84" y="150.77" width="15.54" height="23.20" fill="#60D6A1"/>
<rect x="630.32" y="150.77" width="15.54" height="23.20" fill="#60D6A1"/>
<rect x="645.81" y="150.77" width="15.54" height="23.20" fill="#60D6A1"/>
<rect x="661.30" y="150.77" width="15.54" height="23.20" fill="#60D6A1"/>
<rect x="676.78" y="150.77" width="15.54" height="23.20" fill="#60D6A1"/>
<rect x="692.27" y="150.77" width="15.54" height="23.20" fill="#60D6A1"/>
<rect x="707.76" y="150.77" width="15.54" height="23.20" fill="#60D6A1"/>
<rect x="723.25" y="150.77" width="15.54" height="23.20" fill="#60D6A1"/>
<rect x="738.73" y="150.77" width="15.54" height="23.20" fill="#60D6A1"/>
<rect x="754.22" y="150.77" width="15.54" height="23.20" fill="#60D6A1"/>
<rect x="769.71" y="150.77" width="15.54" height="23.20" fill="#60D6A1"/>
<rect x="785.19" y="150.77" width="15.54" height="23.20" fill="#60D6A1"/>
<rect x="800.68" y="150.77" width="15.54" height="23.20" fill="#60D6A1"/>
<rect x="816.17" y="150.77" width="15.54" height="23.20" fill="#60D6A1"/>
<rect x="831.65" y="150.77" width="15.54" height="23.20" fill="#E8476E"/>
<rect x="847.14" y="150.77" width="15.54" height="23.20" fill="#60D6A1"/>
<rect x="862.63" y="150.77" width="15.54" height="23.20" fill="#60D6A1"/>
<rect x="878.12" y="150.77" width="15.54" height="23.20" fill="#60D6A1"/>
<rect x="893.60" y="150.77" width="15.54" height="23.20" fill="#60D6A1"/>
<rect x="909.09" y="150.77" width="15.54" height="23.20" fill="#60D6A1"/>
<rect x="924.58" y="150.77" width="15.54" height="23.20" fill="#60D6A1"/>
<rect x="940.06" y="150.77" width="15.54" height="23.20" fill="#60D6A1"/>
<rect x="955.55" y="150.77" width="15.54" height="23.20" fill="#EC8054"/>
<rect x="971.04" y="150.77" width="15.54" height="23.20" fill="#60D6A1"/>
<rect x="986.53" y="150.77" width="15.54" height="23.20" fill="#60D6A1"/>
<rect x="1002.01" y="150.77" width="15.54" height="23.20" fill="#A0C05F"/>
<rect x="537.40" y="173.92" width="15.54" height="23.20" fill="#60D6A1"/>
<rect x="552.89" y="173.92" width="15.54" height="23.20" fill="#60D6A1"/>
<rect x="568.37" y="173.92" width="15.54" height="23.20" fill="#60D6A1"/>
<rect x="583.86" y="173.92" width="15.54" height="23.20" fill="#60D6A1"/>
<rect x="599.35" y="173.92" width="15.54" height="23.20" fill="#60D6A1"/>
<rect x="614.84" y="173.92" width="15.54" height="23.20" fill="#60D6A1"/>
<rect x="630.32" y="173.92" width="15.54" height="23.20" fill="#60D6A1"/>
<rect x="645.81" y="173.92" width="15.54" height="23.20" fill="#60D6A1"/>
<rect x="661.30" y="173.92" width="15.54" height="23.20" fill="#60D6A1"/>
<rect x="676.78" y="173.92" width="15.54" height="23.20" fill="#60D6A1"/>
<rect x="692.27" y="173.92" width="15.54" height="23.20" fill="#60D6A1"/>
<rect x="707.76" y="173.92" width="15.54" height="23.20" fill="#60D6A1"/>
<rect x="723.25" y="173.92" width="15.54" height="23.20" fill="#60D6A1"/>
<rect x="738.73" y="173.92" width="15.54" height="23.20" fill="#60D6A1"/>
<rect x="754.22" y="173.92" width="15.54" height="23.20" fill="#60D6A1"/>
<rect x="769.71" y="173.92" width="15.54" height="23.20" fill="#60D6A1"/>
<rect x="785.19" y="173.92" width="15.54" height="23.20" fill="#60D6A1"/>
<rect x="800.68" y="173.92" width="15.54" height="23.20" fill="#60D6A1"/>
<rect x="816.17" y="173.92" width="15.54" height="23.20" fill="#60D6A1"/>
<rect x="831.65" y="173.92" width="15.54" height="23.20" fill="#60D6A1"/>
<rect x="847.14" y="173.92" width="15.54" height="23.20" fill="#60D6A1"/>
<rect x="862.63" y="173.92" width="15.54" height="23.20" fill="#60D6A1"/>
<rect x="878.12" y="173.92" width="15.54" height="23.20" fill="#60D6A1"/>
<rect x="893.60" y="173.92" width="15.54" height="23.20" fill="#60D6A1"/>
<rect x="909.09" y="173.92" width="15.54" height="23.20" fill="#60D6A1"/>
<rect x="924.58" y="173.92" width="15.54" height="23.20" fill="#60D6A1"/>
<rect x="940.06" y="173.92" width="15.54" height="23.20" fill="#60D6A1"/>
<rect x="955.55" y="173.92" width="15.54" height="23.20" fill="#60D6A1"/>
<rect x="971.04" y="173.92" width="15.54" height="23.20" fill="#60D6A1"/>
<rect x="986.53" y="173.92" width="15.54" height="23.20" fill="#60D6A1"/>
<rect x="1002.01" y="173.92" width="15.54" height="23.20" fill="#E85A64"/>
<rect x="537.40" y="197.07" width="15.54" height="23.20" fill="#60D6A1"/>
<rect x="552.89" y="197.07" width="15.54" height="23.20" fill="#60D6A1"/>
<rect x="568.37" y="197.07" width="15.54" height="23.20" fill="#60D6A1"/>
<rect x="583.86" y="197.07" width="15.54" height="23.20" fill="#60D6A1"/>
<rect x="599.35" y="197.07" width="15.54" height="23.20" fill="#60D6A1"/>
<rect x="614.84" y="197.07" width="15.54" height="23.20" fill="#60D6A1"/>
<rect x="630.32" y="197.07" width="15.54" height="23.20" fill="#60D6A1"/>
<rect x="645.81" y="197.07" width="15.54" height="23.20" fill="#60D6A1"/>
<rect x="661.30" y="197.07" width="15.54" height="23.20" fill="#60D6A1"/>
<rect x="676.78" y="197.07" width="15.54" height="23.20" fill="#60D6A1"/>
<rect x="692.27" y="197.07" width="15.54" height="23.20" fill="#60D6A1"/>
<rect x="707.76" y="197.07" width="15.54" height="23.20" fill="#60D6A1"/>
<rect x="723.25" y="197.07" width="15.54" height="23.20" fill="#60D6A1"/>
<rect x="738.73" y="197.07" width="15.54" height="23.20" fill="#60D6A1"/>
<rect x="754.22" y="197.07" width="15.54" height="23.20" fill="#60D6A1"/>
<rect x="769.71" y="197.07" width="15.54" height="23.20" fill="#60D6A1"/>
<rect x="785.19" y="197.07" width="15.54" height="23.20" fill="#60D6A1"/>
<rect x="800.68" y="197.07" width="15.54" height="23.20" fill="#60D6A1"/>
<rect x="816.17" y="197.07" width="15.54" height="23.20" fill="#60D6A1"/>
<rect x="831.65" y="197.07" width="15.54" height="23.20" fill="#60D6A1"/>
<rect x="847.14" y="197.07" width="15.54" height="23.20" fill="#60D6A1"/>
<rect x="862.63" y="197.07" width="15.54" height="23.20" fill="#60D6A1"/>
<rect x="878.12" y="197.07" width="15.54" height="23.20" fill="#60D6A1"/>
<rect x="893.60" y="197.07" width="15.54" height="23.20" fill="#60D6A1"/>
<rect x="909.09" y="197.07" width="15.54" height="23.20" fill="#60D6A1"/>
<rect x="924.58" y="197.07" width="15.54" height="23.20" fill="#60D6A1"/>
<rect x="940.06" y="197.07" width="15.54" height="23.20" fill="#60D6A1"/>
<rect x="955.55" y="197.07" width="15.54" height="23.20" fill="#60D6A1"/>
<rect x="971.04" y="197.07" width="15.54" height="23.20" fill="#60D6A1"/>
<rect x="986.53" y="197.07" width="15.54" height="23.20" fill="#60D6A1"/>
<rect x="1002.01" y="197.07" width="15.54" height="23.20" fill="#E85A64"/>
<rect x="537.40" y="220.22" width="15.54" height="23.20" fill="#60D6A1"/>
<rect x="552.89" y="220.22" width="15.54" height="23.20" fill="#60D6A1"/>
<rect x="568.37" y="220.22" width="15.54" height="23.20" fill="#60D6A1"/>
<rect x="583.86" y="220.22" width="15.54" height="23.20" fill="#60D6A1"/>
<rect x="599.35" y="220.22" width="15.54" height="23.20" fill="#60D6A1"/>
<rect x="614.84" y="220.22" width="15.54" height="23.20" fill="#60D6A1"/>
<rect x="630.32" y="220.22" width="15.54" height="23.20" fill="#60D6A1"/>
<rect x="645.81" y="220.22" width="15.54" height="23.20" fill="#60D6A1"/>
<rect x="661.30" y="220.22" width="15.54" height="23.20" fill="#60D6A1"/>
<rect x="676.78" y="220.22" width="15.54" height="23.20" fill="#60D6A1"/>
<rect x="692.27" y="220.22" width="15.54" height="23.20" fill="#60D6A1"/>
<rect x="707.76" y="220.22" width="15.54" height="23.20" fill="#60D6A1"/>
<rect x="723.25" y="220.22" width="15.54" height="23.20" fill="#60D6A1"/>
<rect x="738.73" y="220.22" width="15.54" height="23.20" fill="#60D6A1"/>
<rect x="754.22" y="220.22" width="15.54" height="23.20" fill="#60D6A1"/>
<rect x="769.71" y="220.22" width="15.54" height="23.20" fill="#60D6A1"/>
<rect x="785.19" y="220.22" width="15.54" height="23.20" fill="#60D6A1"/>
<rect x="800.68" y="220.22" width="15.54" height="23.20" fill="#60D6A1"/>
<rect x="816.17" y="220.22" width="15.54" height="23.20" fill="#60D6A1"/>
<rect x="831.65" y="220.22" width="15.54" height="23.20" fill="#60D6A1"/>
<rect x="847.14" y="220.22" width="15.54" height="23.20" fill="#60D6A1"/>
<rect x="862.63" y="220.22" width="15.54" height="23.20" fill="#60D6A1"/>
<rect x="878.12" y="220.22" width="15.54" height="23.20" fill="#60D6A1"/>
<rect x="893.60" y="220.22" width="15.54" height="23.20" fill="#60D6A1"/>
<rect x="909.09" y="220.22" width="15.54" height="23.20" fill="#60D6A1"/>
<rect x="924.58" y="220.22" width="15.54" height="23.20" fill="#60D6A1"/>
<rect x="940.06" y="220.22" width="15.54" height="23.20" fill="#60D6A1"/>
<rect x="955.55" y="220.22" width="15.54" height="23.20" fill="#60D6A1"/>
<rect x="971.04" y="220.22" width="15.54" height="23.20" fill="#60D6A1"/>
<rect x="986.53" y="220.22" width="15.54" height="23.20" fill="#60D6A1"/>
<rect x="1002.01" y="220.22" width="15.54" height="23.20" fill="#60D6A1"/>
<rect x="537.40" y="243.37" width="15.54" height="22.58" fill="#60D6A1"/>
<rect x="552.89" y="243.37" width="15.54" height="22.58" fill="#60D6A1"/>
<rect x="568.37" y="243.37" width="15.54" height="22.58" fill="#60D6A1"/>
<rect x="583.86" y="243.37" width="15.54" height="22.58" fill="#60D6A1"/>
<rect x="599.35" y="243.37" width="15.54" height="22.58" fill="#60D6A1"/>
<rect x="614.84" y="243.37" width="15.54" height="22.58" fill="#60D6A1"/>
<rect x="630.32" y="243.37" width="15.54" height="22.58" fill="#60D6A1"/>
<rect x="645.81" y="243.37" width="15.54" height="22.58" fill="#60D6A1"/>
<rect x="661.30" y="243.37" width="15.54" height="22.58" fill="#60D6A1"/>
<rect x="676.78" y="243.37" width="15.54" height="22.58" fill="#60D6A1"/>
<rect x="692.27" y="243.37" width="15.54" height="22.58" fill="#60D6A1"/>
<rect x="707.76" y="243.37" width="15.54" height="22.58" fill="#60D6A1"/>
<rect x="723.25" y="243.37" width="15.54" height="22.58" fill="#60D6A1"/>
<rect x="738.73" y="243.37" width="15.54" height="22.58" fill="#60D6A1"/>
<rect x="754.22" y="243.37" width="15.54" height="22.58" fill="#E8476E"/>
<rect x="769.71" y="243.37" width="15.54" height="22.58" fill="#60D6A1"/>
<rect x="785.19" y="243.37" width="15.54" height="22.58" fill="#60D6A1"/>
<rect x="800.68" y="243.37" width="15.54" height="22.58" fill="#60D6A1"/>
<rect x="816.17" y="243.37" width="15.54" height="22.58" fill="#60D6A1"/>
<rect x="831.65" y="243.37" width="15.54" height="22.58" fill="#60D6A1"/>
<rect x="847.14" y="243.37" width="15.54" height="22.58" fill="#60D6A1"/>
<rect x="862.63" y="243.37" width="15.54" height="22.58" fill="#60D6A1"/>
<rect x="878.12" y="243.37" width="15.54" height="22.58" fill="#60D6A1"/>
<rect x="893.60" y="243.37" width="15.54" height="22.58" fill="#60D6A1"/>
<rect x="909.09" y="243.37" width="15.54" height="22.58" fill="#60D6A1"/>
<rect x="924.58" y="243.37" width="15.54" height="22.58" fill="#60D6A1"/>
<rect x="940.06" y="243.37" width="15.54" height="22.58" fill="#60D6A1"/>
<rect x="955.55" y="243.37" width="15.54" height="22.58" fill="#60D6A1"/>
<rect x="971.04" y="243.37" width="15.54" height="22.58" fill="#60D6A1"/>
<rect x="986.53" y="243.37" width="15.54" height="22.58" fill="#60D6A1"/>
<rect x="1002.01" y="243.37" width="15.54" height="22.58" fill="#60D6A1"/>
<line x1="537.40" y1="35.02" x2="1017.50" y2="35.02" class="gl"/>
<line x1="552.89" y1="35.02" x2="552.89" y2="265.90" class="gl"/>
<line x1="568.37" y1="35.02" x2="568.37" y2="265.90" class="gl"/>
<line x1="583.86" y1="35.02" x2="583.86" y2="265.90" class="gl"/>
<line x1="599.35" y1="35.02" x2="599.35" y2="265.90" class="gl"/>
<line x1="614.84" y1="35.02" x2="614.84" y2="265.90" class="gl"/>
<line x1="630.32" y1="35.02" x2="630.32" y2="265.90" class="gl"/>
<line x1="645.81" y1="35.02" x2="645.81" y2="265.90" class="gl"/>
<line x1="661.30" y1="35.02" x2="661.30" y2="265.90" class="gl"/>
<line x1="676.78" y1="35.02" x2="676.78" y2="265.90" class="gl"/>
<line x1="692.27" y1="35.02" x2="692.27" y2="265.90" class="gl"/>
<line x1="707.76" y1="35.02" x2="707.76" y2="265.90" class="gl"/>
<line x1="723.25" y1="35.02" x2="723.25" y2="265.90" class="gl"/>
<line x1="738.73" y1="35.02" x2="738.73" y2="265.90" class="gl"/>
<line x1="754.22" y1="35.02" x2="754.22" y2="265.90" class="gl"/>
<line x1="769.71" y1="35.02" x2="769.71" y2="265.90" class="gl"/>
<line x1="785.19" y1="35.02" x2="785.19" y2="265.90" class="gl"/>
<line x1="800.68" y1="35.02" x2="800.68" y2="265.90" class="gl"/>
<line x1="816.17" y1="35.02" x2="816.17" y2="265.90" class="gl"/>
<line x1="831.65" y1="35.02" x2="831.65" y2="265.90" class="gl"/>
<line x1="847.14" y1="35.02" x2="847.14" y2="265.90" class="gl"/>
<line x1="862.63" y1="35.02" x2="862.63" y2="265.90" class="gl"/>
<line x1="878.12" y1="35.02" x2="878.12" y2="265.90" class="gl"/>
<line x1="893.60" y1="35.02" x2="893.60" y2="265.90" class="gl"/>
<line x1="909.09" y1="35.02" x2="909.09" y2="265.90" class="gl"/>
<line x1="924.58" y1="35.02" x2="924.58" y2="265.90" class="gl"/>
<line x1="940.06" y1="35.02" x2="940.06" y2="265.90" class="gl"/>
<line x1="955.55" y1="35.02" x2="955.55" y2="265.90" class="gl"/>
<line x1="971.04" y1="35.02" x2="971.04" y2="265.90" class="gl"/>
<line x1="986.53" y1="35.02" x2="986.53" y2="265.90" class="gl"/>
<line x1="1002.01" y1="35.02" x2="1002.01" y2="265.90" class="gl"/>
<line x1="537.40" y1="58.17" x2="1017.50" y2="58.17" class="gl"/>
<line x1="537.40" y1="81.32" x2="1017.50" y2="81.32" class="gl"/>
<line x1="537.40" y1="104.47" x2="1017.50" y2="104.47" class="gl"/>
<line x1="537.40" y1="127.62" x2="1017.50" y2="127.62" class="gl"/>
<line x1="537.40" y1="150.77" x2="1017.50" y2="150.77" class="gl"/>
<line x1="537.40" y1="173.92" x2="1017.50" y2="173.92" class="gl"/>
<line x1="537.40" y1="197.07" x2="1017.50" y2="197.07" class="gl"/>
<line x1="537.40" y1="220.22" x2="1017.50" y2="220.22" class="gl"/>
<line x1="537.40" y1="243.37" x2="1017.50" y2="243.37" class="gl"/>
<line x1="545.14" y1="265.90" x2="545.14" y2="268.40" class="tk"/>
<line x1="560.63" y1="265.90" x2="560.63" y2="268.40" class="tk"/>
<line x1="576.12" y1="265.90" x2="576.12" y2="268.40" class="tk"/>
<line x1="591.60" y1="265.90" x2="591.60" y2="268.40" class="tk"/>
<line x1="607.09" y1="265.90" x2="607.09" y2="268.40" class="tk"/>
<line x1="622.58" y1="265.90" x2="622.58" y2="268.40" class="tk"/>
<line x1="638.07" y1="265.90" x2="638.07" y2="268.40" class="tk"/>
<line x1="653.55" y1="265.90" x2="653.55" y2="268.40" class="tk"/>
<line x1="669.04" y1="265.90" x2="669.04" y2="268.40" class="tk"/>
<line x1="684.53" y1="265.90" x2="684.53" y2="268.40" class="tk"/>
<line x1="700.01" y1="265.90" x2="700.01" y2="268.40" class="tk"/>
<line x1="715.50" y1="265.90" x2="715.50" y2="268.40" class="tk"/>
<line x1="730.99" y1="265.90" x2="730.99" y2="268.40" class="tk"/>
<line x1="746.48" y1="265.90" x2="746.48" y2="268.40" class="tk"/>
<line x1="761.96" y1="265.90" x2="761.96" y2="268.40" class="tk"/>
<line x1="777.45" y1="265.90" x2="777.45" y2="268.40" class="tk"/>
<line x1="792.94" y1="265.90" x2="792.94" y2="268.40" class="tk"/>
<line x1="808.42" y1="265.90" x2="808.42" y2="268.40" class="tk"/>
<line x1="823.91" y1="265.90" x2="823.91" y2="268.40" class="tk"/>
<line x1="839.40" y1="265.90" x2="839.40" y2="268.40" class="tk"/>
<line x1="854.89" y1="265.90" x2="854.89" y2="268.40" class="tk"/>
<line x1="870.37" y1="265.90" x2="870.37" y2="268.40" class="tk"/>
<line x1="885.86" y1="265.90" x2="885.86" y2="268.40" class="tk"/>
<line x1="901.35" y1="265.90" x2="901.35" y2="268.40" class="tk"/>
<line x1="916.83" y1="265.90" x2="916.83" y2="268.40" class="tk"/>
<line x1="932.32" y1="265.90" x2="932.32" y2="268.40" class="tk"/>
<line x1="947.81" y1="265.90" x2="947.81" y2="268.40" class="tk"/>
<line x1="963.30" y1="265.90" x2="963.30" y2="268.40" class="tk"/>
<line x1="978.78" y1="265.90" x2="978.78" y2="268.40" class="tk"/>
<line x1="994.27" y1="265.90" x2="994.27" y2="268.40" class="tk"/>
<line x1="1009.76" y1="265.90" x2="1009.76" y2="268.40" class="tk"/>
<line x1="535.20" y1="46.59" x2="537.40" y2="46.59" class="tk"/>
<line x1="535.20" y1="69.75" x2="537.40" y2="69.75" class="tk"/>
<line x1="535.20" y1="92.89" x2="537.40" y2="92.89" class="tk"/>
<line x1="535.20" y1="116.05" x2="537.40" y2="116.05" class="tk"/>
<line x1="535.20" y1="139.19" x2="537.40" y2="139.19" class="tk"/>
<line x1="535.20" y1="162.34" x2="537.40" y2="162.34" class="tk"/>
<line x1="535.20" y1="185.50" x2="537.40" y2="185.50" class="tk"/>
<line x1="535.20" y1="208.64" x2="537.40" y2="208.64" class="tk"/>
<line x1="535.20" y1="231.80" x2="537.40" y2="231.80" class="tk"/>
<line x1="535.20" y1="254.63" x2="537.40" y2="254.63" class="tk"/>
</svg>
<div class="t title" id="t1" style="left:64.8px;top:6.8px">Masking out top 20 retrieval heads, accuracy 63.6</div>
<div class="t title" id="t2" style="left:581.7px;top:6.8px">Masking out 20 random heads, accuracy 94.7</div>
<div class="t tick" style="left:8.8px;top:47.7px">0.1</div>
<div class="t tick" style="left:8.8px;top:142.0px">0.5</div>
<div class="t tick" style="left:8.8px;top:234.4px">0.9</div>
<div class="t tick" style="left:39.2px;top:270.3px">5K</div>
<div class="t tick" style="left:256px;top:270.3px">50K</div>
<div class="t tick" style="left:479.8px;top:270.3px">100K</div>
<div class="t tick" style="left:537.5px;top:270.3px">5K</div>
<div class="t tick" style="left:754px;top:270.3px">50K</div>
<div class="t tick" style="left:978px;top:270.3px">100K</div>
<div class="cl" style="top:310.70px;word-spacing:-0.015px;transform:scaleX(1.034)">Figure 1: Retrieval heads are the heads that redirect information from the input to the output. Left:</div>
<div class="cl" style="top:338.63px;word-spacing:-0.857px">masking out the top retrieval heads of LLaMA 2 7B 80K, its Needle-in-a-Haystack performance drops</div>
<div class="cl" style="top:366.56px;word-spacing:-0.230px;transform:scaleX(1.02)">significantly, and the model hallucinates during decoding. Right: masking out random non-retrieval</div>
<div class="cl" style="top:394.49px;word-spacing:-0.178px">heads does not influence the model’s needle-in-a-haystack behavior. We further note that the retrieval</div>
<div class="cl" style="top:422.42px;word-spacing:1.229px;transform:scaleX(1.035)">head only influence factuality but not the language capability: when they are masked, the model</div>
<div class="cl" style="top:450.35px;word-spacing:-0.576px">hallucinates by saying “go to the beach”, which is still a fluent sentence, but not factual (as the correct</div>
<div class="cl" style="top:478.28px;word-spacing:-0.099px;transform:scaleX(1.015)">answer is “eating a sandwich at Dolores park.”).</div>
</body></html>
